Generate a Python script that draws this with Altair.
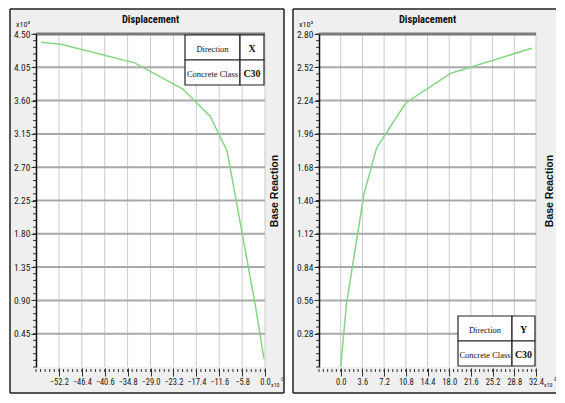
import altair as alt
import pandas as pd
import numpy as np

# ---------------- data (x in 1e-3, base reaction in 1e3) ----------------
disp_X = [-56.7, -51.7, -33.0, -20.9, -13.9, -9.6, -2.5, -0.25]
react_X = [4.39, 4.36, 4.11, 3.76, 3.39, 2.92, 0.85, 0.11]

disp_Y = [0.0, 0.96, 3.86, 5.95, 10.77, 18.3, 31.7]
react_Y = [0.0, 0.53, 1.455, 1.84, 2.22, 2.47, 2.68]

xticks_X = [-52.2, -46.4, -40.6, -34.8, -29.0, -23.2, -17.4, -11.6, -5.8, 0.0]
yticks_X = [0.45, 0.90, 1.35, 1.80, 2.25, 2.70, 3.15, 3.60, 4.05, 4.50]
xticks_Y = [0.0, 3.6, 7.2, 10.8, 14.4, 18.0, 21.6, 25.2, 28.8, 32.4]
yticks_Y = [0.28, 0.56, 0.84, 1.12, 1.40, 1.68, 1.96, 2.24, 2.52, 2.80]

title_text = "Displacement"
ylabel_text = "Base Reaction"
table_rows_X = [("Direction", "X"), ("Concrete Class", "C30")]
table_rows_Y = [("Direction", "Y"), ("Concrete Class", "C30")]

NARROW = "Roboto Condensed, DejaVu Sans Condensed, Liberation Sans, sans-serif"
SERIF = "Liberation Serif, Times New Roman, serif"
H = 333
BOT = 26
one = pd.DataFrame({"k": [0]})


def txt(x, y, text, **kw):
    return alt.Chart(one).mark_text(**kw).encode(
        x=alt.value(x), y=alt.value(y), text=alt.value(text))


def rect(x, x2, y, y2, **kw):
    return alt.Chart(one).mark_rect(**kw).encode(
        x=alt.value(x), x2=alt.value(x2), y=alt.value(y), y2=alt.value(y2))


def hline(x, x2, y, **kw):
    return alt.Chart(one).mark_rule(**kw).encode(
        x=alt.value(x), x2=alt.value(x2), y=alt.value(y))


def vline(x, y, y2, **kw):
    return alt.Chart(one).mark_rule(**kw).encode(
        x=alt.value(x), y=alt.value(y), y2=alt.value(y2))


def panel(xs, ys, xdom, ydom, xticks, yticks, W, rows, tbl, right_ext,
          right_border, e3_x, br_x):
    xstep = (xticks[1] - xticks[0]) / 5.0
    ystep = (yticks[1] - yticks[0]) / 5.0
    minor_x = [round(v, 4) for v in np.arange(xdom[0], xdom[1] + 1e-9, xstep)]
    minor_y = [round(v, 4) for v in np.arange(ydom[0], ydom[1] + 1e-9, ystep)]
    xs_scale = alt.Scale(domain=xdom, nice=False, zero=False)
    ys_scale = alt.Scale(domain=ydom, nice=False, zero=False)
    xaxis = alt.Axis(values=xticks, format=".1f", grid=False, domain=False,
                     tickColor="#333333", tickSize=8, offset=1, title=None,
                     labelFont=NARROW, labelFontSize=8.5, labelColor="#1a1a1a",
                     labelPadding=1, labelFlush=False, labelOverlap=False,
                     zindex=1)
    yaxis = alt.Axis(values=yticks, format=".2f", grid=False, domain=True,
                     domainColor="#111111", domainWidth=1.5, title=None,
                     tickColor="#333333", tickSize=5,
                     labelFont=NARROW, labelFontSize=9.5, labelColor="#1a1a1a",
                     labelPadding=1, labelOverlap=False, zindex=1)
    X = lambda f: alt.X(f, scale=xs_scale, axis=xaxis)
    Y = lambda f: alt.Y(f, scale=ys_scale, axis=yaxis)

    layers = []
    # panel background and frame
    layers.append(rect(-26, W + right_ext, -25, H + BOT, fill="#efefef"))
    border = dict(color="#222222", strokeWidth=1.5)
    layers.append(hline(-26, W + right_ext, -25, **border))
    layers.append(hline(-26, W + right_ext, H + BOT, **border))
    layers.append(vline(-26, -25, H + BOT, **border))
    if right_border:
        layers.append(vline(W + right_ext, -25, H + BOT, **border))
    layers.append(rect(0, W, 0, H, fill="white"))
    # grid
    layers.append(alt.Chart(pd.DataFrame({"v": xticks})).mark_rule(
        color="#cacaca", strokeWidth=1).encode(
        x=X("v:Q"), y=alt.value(0), y2=alt.value(H)))
    layers.append(alt.Chart(pd.DataFrame({"v": yticks})).mark_rule(
        color="#a9a9a9", strokeWidth=2).encode(
        y=Y("v:Q"), x=alt.value(0), x2=alt.value(W)))
    layers.append(hline(0, W, 0, color="#7a7a7a", strokeWidth=3))
    # minor ticks
    layers.append(alt.Chart(pd.DataFrame({"v": minor_x})).mark_rule(
        color="#333333", strokeWidth=1).encode(
        x=X("v:Q"), y=alt.value(H + 2), y2=alt.value(H + 5)))
    layers.append(alt.Chart(pd.DataFrame({"v": minor_y})).mark_rule(
        color="#333333", strokeWidth=1).encode(
        y=Y("v:Q"), x=alt.value(-3), x2=alt.value(0)))
    # the curve
    df = pd.DataFrame({"v": xs, "w": ys})
    layers.append(alt.Chart(df).mark_line(color="#84d684", strokeWidth=1.5).encode(
        x=X("v:Q"), y=alt.Y("w:Q", scale=ys_scale, axis=yaxis)))
    # texts
    layers.append(txt(W / 2, -14, title_text, font=NARROW, fontSize=10.5,
                      fontWeight="bold", color="#111"))
    layers.append(txt(-20, -9, "x10³", font=NARROW, fontSize=8,
                      align="left", color="#222"))
    layers.append(txt(W + e3_x, H + 18, "x10", font=NARROW, fontSize=6,
                      align="left", color="#222"))
    layers.append(txt(W + e3_x + 9, H + 13, "-3", font=NARROW, fontSize=4.5,
                      align="left", color="#222"))
    layers.append(txt(W + br_x, 157, ylabel_text, font="Liberation Sans",
                      fontSize=10.5, fontWeight="bold", angle=270, color="#111"))
    # table
    tx0, tx1, tx2, ty0 = tbl
    rh = 25
    for i, (lab, val) in enumerate(rows):
        y0 = ty0 + i * rh
        layers.append(rect(tx0, tx1, y0, y0 + rh, fill="white", stroke="#222",
                           strokeWidth=1.2))
        layers.append(rect(tx1, tx2, y0, y0 + rh, fill="white", stroke="#222",
                           strokeWidth=1.2))
        layers.append(txt((tx0 + tx1) / 2, y0 + rh / 2 + 1, lab, font=SERIF,
                          fontSize=8.5, baseline="middle", color="#111"))
        layers.append(txt((tx1 + tx2) / 2, y0 + rh / 2 + 1, val, font=SERIF,
                          fontSize=10, fontWeight="bold", baseline="middle",
                          color="#111"))
    return alt.layer(*layers).properties(width=W, height=H)


WL, WR = 229, 217
left = panel(disp_X, react_X, [-58.0, 0.0], [0.0, 4.5], xticks_X, yticks_X, WL,
             table_rows_X, (WL - 80, WL - 25, WL - 1, 1), 19, True, 6, 10)
right = panel(disp_Y, react_Y, [-3.6, 32.4], [0.0, 2.8], xticks_Y, yticks_Y, WR,
              table_rows_Y, (WR - 78, WR - 24, WR - 1, H - 51), 20, False, 8, 14)

chart = alt.hconcat(left, right, spacing=54, bounds="flush").properties(
    padding={"left": 1, "top": 0, "right": 0, "bottom": 0},
    background="white",
).configure_view(stroke=None)

chart.save("out.html", embed_options={"renderer": "svg", "actions": False})
